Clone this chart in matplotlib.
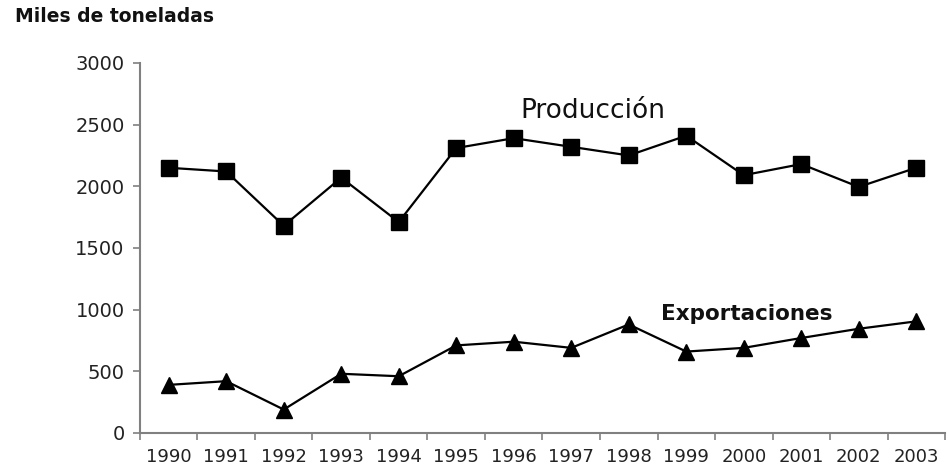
import numpy as np
import matplotlib.pyplot as plt

# datos (miles de toneladas)
years = [str(y) for y in range(1990, 2004)]
produccion = [2150, 2120, 1680, 2070, 1710, 2310, 2390, 2320, 2250, 2410, 2090, 2180, 1995, 2150]
exportaciones = [390, 420, 190, 480, 460, 710, 740, 690, 880, 660, 690, 770, 845, 905]

fig = plt.figure(figsize=(9.49, 4.69), dpi=100)
ax = fig.add_axes([0.1475, 0.0768, 0.8483, 0.789])

x = np.arange(len(years))
ax.plot(x, produccion, color="black", lw=1.6, marker="s", ms=11.5, mfc="black", mec="black")
ax.plot(x, exportaciones, color="black", lw=1.6, marker="^", ms=12, mfc="black", mec="black")

ax.set_ylim(0, 3000)
ax.set_yticks(range(0, 3001, 500))
ax.set_xlim(-0.5, len(years) - 0.5)
ax.set_xticks(np.arange(-0.5, len(years), 1))
ax.set_xticklabels([])
ax.set_xticks(x, minor=True)
ax.set_xticklabels(years, minor=True)

for s in ["top", "right"]:
    ax.spines[s].set_visible(False)
for s in ["left", "bottom"]:
    ax.spines[s].set_color("#808080")
    ax.spines[s].set_linewidth(1.5)

ax.tick_params(axis="y", colors="#808080", length=5, width=1.2, labelsize=14, labelcolor="#222222", pad=6)
ax.tick_params(axis="x", which="major", colors="#808080", length=5, width=1.2)
ax.tick_params(axis="x", which="minor", length=0, labelsize=13, labelcolor="#222222", pad=11)

ax.text(6.12, 2611, "Producción", fontsize=19, va="center", ha="left", color="#111111")
ax.text(8.56, 965, "Exportaciones", fontsize=15.5, fontweight="bold", va="center", ha="left", color="#111111")
fig.text(0.0158, 0.964, "Miles de toneladas", fontsize=13.5, fontweight="bold", va="center", ha="left", color="#111111")

fig.savefig("out.png", dpi=100)
